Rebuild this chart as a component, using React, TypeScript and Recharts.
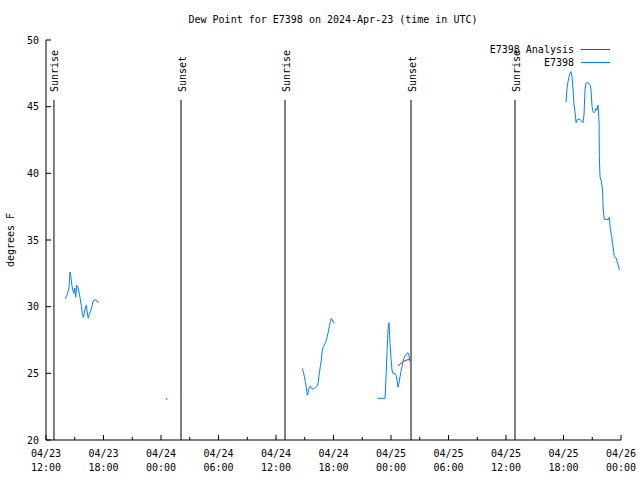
import { ComposedChart, Line, XAxis, YAxis, ReferenceLine, Legend } from "recharts"

const FONT = '"DejaVu Sans Mono", "Liberation Mono", monospace'

// hours since 04/23 12:00 UTC; null breaks the line
const stationHours = [
  2.0, 2.2, 2.4, 2.5, 2.6, 2.7, 2.8, 2.9, 3.0, 3.1, 3.2, 3.3, 3.4, 3.5, 3.7, 3.8, 3.9, 4.1, 4.2, 4.3,
  4.4, 4.5, 4.7, 4.9, 5.0, 5.2, 5.5,
  8,
  12.55,
  20,
  26.75, 26.85, 26.96, 27.06, 27.16, 27.27, 27.37, 27.48, 27.58, 27.68, 27.79, 28.0, 28.21, 28.31,
  28.41, 28.52, 28.62, 28.73, 28.83, 28.94, 29.04, 29.15, 29.25, 29.35, 29.46, 29.56, 29.67, 29.77,
  29.87, 30.08,
  32,
  34.57, 35.38, 35.48, 35.58, 35.69, 35.79, 35.9, 36.0, 36.1, 36.21, 36.42, 36.52, 36.63, 36.73,
  36.83, 36.94, 37.04, 37.15, 37.25, 37.35, 37.46, 37.56, 37.67, 37.77, 37.87, 37.98,
  45,
  54.26, 54.37, 54.47, 54.58, 54.68, 54.79, 54.89, 55.0, 55.1, 55.2, 55.31, 55.41, 55.52, 55.72,
  55.93, 56.04, 56.14, 56.25, 56.35, 56.45, 56.66, 56.77, 56.87, 56.98, 57.08, 57.18, 57.29, 57.39,
  57.5, 57.6, 57.71, 57.74, 57.81, 57.96, 58.07, 58.15, 58.26, 58.68, 58.78, 58.89, 59.03, 59.14,
  59.24, 59.3, 59.48, 59.58, 59.71, 59.81, 59.88,
]

const stationDewPoint = [
  30.6, 30.9, 31.4, 32.6, 32.2, 31.6, 31.25, 31.0, 31.4, 30.7, 31.6, 31.5, 31.25, 30.9, 30.0, 29.4,
  29.2, 29.9, 30.1, 29.6, 29.15, 29.4, 29.75, 30.35, 30.5, 30.5, 30.3,
  null,
  23.1,
  null,
  25.38, 25.12, 24.75, 24.37, 23.95, 23.37, 23.62, 23.95, 24.05, 23.95, 23.8, 23.88, 24.0, 24.05,
  24.37, 25.0, 25.5, 26.0, 26.75, 27.0, 27.12, 27.3, 27.5, 27.75, 28.12, 28.5, 28.87, 29.12, 29.0,
  28.75,
  null,
  23.13, 23.13, 24.75, 26.5, 28.25, 28.8, 27.25, 26.12, 25.25, 25.0, 25.0, 24.87, 24.5, 23.95,
  24.25, 24.75, 25.12, 25.5, 25.87, 26.12, 26.3, 26.37, 26.5, 26.55, 26.37, 25.87,
  null,
  45.33, 46.38, 46.87, 47.25, 47.5, 47.62, 47.25, 46.25, 45.12, 44.62, 43.8, 44.0, 44.05, 44.05,
  43.87, 43.8, 44.37, 46.38, 46.75, 46.8, 46.75, 46.62, 46.25, 45.0, 44.62, 44.55, 44.62, 44.87,
  44.75, 45.12, 43.87, 41.25, 39.75, 39.35, 38.75, 37.25, 36.55, 36.55, 36.7, 35.8, 35.25, 34.62,
  34.12, 33.75, 33.67, 33.42, 33.12, 32.8, 32.75,
]

const analysisHours = [36.76, 37.04, 37.28, 37.46, 37.64, 37.98]
const analysisDewPoint = [25.57, 25.75, 25.87, 25.95, 26.0, 26.05]

const seriesNames = ["E7398 Analysis", "E7398"]
const seriesColors = ["#ff0000", "#0080ff"]

const sunEventHours = [0.83, 14.09, 24.94, 38.09, 48.94]
const sunEventNames = ["Sunrise", "Sunset", "Sunrise", "Sunset", "Sunrise"]

const xTickHours = [0, 3, 6, 9, 12, 15, 18, 21, 24, 27, 30, 33, 36, 39, 42, 45, 48, 51, 54, 57, 60]
const xTickDates = ["04/23", "04/23", "04/24", "04/24", "04/24", "04/24", "04/25", "04/25", "04/25", "04/25", "04/26"]
const xTickTimes = ["12:00", "18:00", "00:00", "06:00", "12:00", "18:00", "00:00", "06:00", "12:00", "18:00", "00:00"]
const yTicks = [20, 25, 30, 35, 40, 45, 50]

const stationData = stationHours.map((h, i) => ({ h, v: stationDewPoint[i] }))
const analysisData = analysisHours.map((h, i) => ({ h, v: analysisDewPoint[i] }))

const BottomTick = ({ x, y, payload }: any) => {
  const h = payload.value as number
  const major = h % 6 === 0
  const i = h / 6
  return (
    <g>
      <line x1={x} x2={x} y1={y} y2={y - (major ? 5 : 3)} stroke="#000" />
      {major && (
        <text x={x} y={y + 17} textAnchor="middle" fontFamily={FONT} fontSize={10} fill="#000">
          <tspan x={x}>{xTickDates[i]}</tspan>
          <tspan x={x} dy={14}>{xTickTimes[i]}</tspan>
        </text>
      )}
    </g>
  )
}

const TopTick = ({ x, y, payload }: any) => {
  const major = (payload.value as number) % 6 === 0
  return <line x1={x} x2={x} y1={y} y2={y + (major ? 5 : 3)} stroke="#000" />
}

const LeftTick = ({ x, y, payload }: any) => (
  <g>
    <line x1={x} x2={x + 5} y1={y} y2={y} stroke="#000" />
    <text x={x - 7} y={y} textAnchor="end" dominantBaseline="central" fontFamily={FONT} fontSize={10} fill="#000">
      {payload.value}
    </text>
  </g>
)

const RightTick = ({ x, y }: any) => <line x1={x - 5} x2={x} y1={y} y2={y} stroke="#000" />

const SunLabel = ({ viewBox, value }: any) => {
  const cx = viewBox.x + 1
  const cy = viewBox.y - 8
  return (
    <text
      x={cx}
      y={cy}
      transform={`rotate(-90 ${cx} ${cy})`}
      textAnchor="start"
      dominantBaseline="central"
      fontFamily={FONT}
      fontSize={10}
      fill="#000"
    >
      {value}
    </text>
  )
}

const IsolatedDot = (props: any) => {
  const { cx, cy, index } = props
  const prev = index > 0 ? stationDewPoint[index - 1] : null
  const next = index < stationDewPoint.length - 1 ? stationDewPoint[index + 1] : null
  if (stationDewPoint[index] == null || prev != null || next != null || cx == null || cy == null) {
    return <g key={index} />
  }
  return <rect key={index} x={cx - 0.5} y={cy - 0.5} width={1.5} height={1.5} fill={seriesColors[1]} />
}

const GnuLegend = () => (
  <div style={{ fontFamily: FONT, fontSize: 10, color: "#000" }}>
    {seriesNames.map((name, i) => (
      <div key={name} style={{ display: "flex", alignItems: "center", justifyContent: "flex-end", height: 13 }}>
        <span>{name}</span>
        <span
          style={{ display: "inline-block", width: 29, height: 1, background: seriesColors[i], marginLeft: 7 }}
        />
      </div>
    ))}
  </div>
)

export default function App() {
  return (
    <div style={{ position: "fixed", left: 0, top: 0, width: 640, height: 480, background: "#fff" }}>
      <div
        style={{
          position: "absolute",
          left: 0,
          top: 14,
          width: 666,
          textAlign: "center",
          fontFamily: FONT,
          fontSize: 10,
          lineHeight: "12px",
          color: "#000",
        }}
      >
        Dew Point for E7398 on 2024-Apr-23 (time in UTC)
      </div>
      <div
        style={{
          position: "absolute",
          left: 11 - 50,
          top: 240 - 6,
          width: 100,
          height: 12,
          textAlign: "center",
          fontFamily: FONT,
          fontSize: 10,
          lineHeight: "12px",
          color: "#000",
          transform: "rotate(-90deg)",
        }}
      >
        degrees F
      </div>
      <ComposedChart width={640} height={480} margin={{ top: 40, right: 19, bottom: 0, left: 0 }}>
        <XAxis
          dataKey="h"
          type="number"
          domain={[0, 60]}
          ticks={xTickHours}
          interval={0}
          allowDataOverflow
          height={40}
          tickSize={0}
          tickMargin={0}
          tick={<BottomTick />}
          axisLine={{ stroke: "#000" }}
        />
        <XAxis
          xAxisId="top"
          orientation="top"
          dataKey="h"
          type="number"
          domain={[0, 60]}
          ticks={xTickHours}
          interval={0}
          allowDataOverflow
          height={0}
          tickSize={0}
          tickMargin={0}
          tick={<TopTick />}
          axisLine={{ stroke: "#000" }}
        />
        <YAxis
          type="number"
          domain={[20, 50]}
          ticks={yTicks}
          interval={0}
          allowDataOverflow
          width={46}
          tickSize={0}
          tickMargin={0}
          tick={<LeftTick />}
          axisLine={{ stroke: "#000" }}
        />
        <YAxis
          yAxisId="right"
          orientation="right"
          type="number"
          domain={[20, 50]}
          ticks={yTicks}
          interval={0}
          allowDataOverflow
          width={0}
          tickSize={0}
          tickMargin={0}
          tick={<RightTick />}
          axisLine={{ stroke: "#000" }}
        />
        {sunEventHours.map((h, i) => (
          <ReferenceLine
            key={i}
            segment={[
              { x: h, y: 20 },
              { x: h, y: 45.5 },
            ]}
            stroke="#000"
            strokeWidth={1}
            label={<SunLabel value={sunEventNames[i]} />}
          />
        ))}
        <Line
          data={analysisData}
          dataKey="v"
          name={seriesNames[0]}
          type="linear"
          stroke={seriesColors[0]}
          strokeWidth={1}
          dot={false}
          activeDot={false}
          isAnimationActive={false}
        />
        <Line
          data={stationData}
          dataKey="v"
          name={seriesNames[1]}
          type="linear"
          stroke={seriesColors[1]}
          strokeWidth={1}
          dot={<IsolatedDot />}
          activeDot={false}
          isAnimationActive={false}
        />
        <Legend
          layout="vertical"
          align="center"
          verticalAlign="middle"
          wrapperStyle={{ top: 43, right: 30, left: "auto", width: "auto" }}
          content={<GnuLegend />}
        />
      </ComposedChart>
    </div>
  )
}
